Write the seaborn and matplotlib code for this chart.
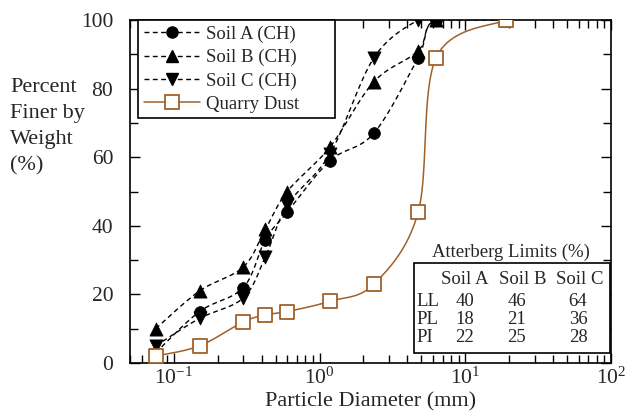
import numpy as np
import pandas as pd
import matplotlib
matplotlib.use("Agg")
import matplotlib.pyplot as plt
from matplotlib.lines import Line2D
from matplotlib.patches import Rectangle
from matplotlib.ticker import FixedLocator, LogLocator, NullFormatter, MultipleLocator
import seaborn as sns

# ---- data ----
sizes_mm = [0.075, 0.15, 0.3, 0.425, 0.6, 1.18, 2.36, 4.75, 6.3, 19.0]
soil_a = [3, 15, 22, 36, 44, 59, 67, 89, 100, 100]
soil_b = [10, 21, 28, 39, 50, 63, 82, 91, 100, 100]
soil_c = [5, 13, 19, 31, 46, 61, 89, 100, 100, 100]
quarry_dust = [2, 5, 12, 14, 15, 18, 23, 44, 89, 100]
series_names = ["Soil A (CH)", "Soil B (CH)", "Soil C (CH)", "Quarry Dust"]

atterberg_title = "Atterberg Limits (%)"
atterberg_cols = ["Soil A", "Soil B", "Soil C"]
atterberg_rows = ["LL", "PL", "PI"]
atterberg_ll = [40, 46, 64]
atterberg_pl = [18, 21, 36]
atterberg_pi = [22, 25, 28]

xtick_vals = [0.1, 1, 10, 100]
xtick_labels = ["$10^{-1}$", "$10^{0}$", "$10^{1}$", "$10^{2}$"]
ytick_vals = [0, 20, 40, 60, 80, 100]

# ---- style ----
sns.set_theme(style="ticks")
plt.rcParams["font.family"] = ["Liberation Serif", "DejaVu Serif"]
plt.rcParams["mathtext.fontset"] = "custom"
plt.rcParams["mathtext.rm"] = "Liberation Serif"
plt.rcParams["mathtext.it"] = "Liberation Serif:italic"
plt.rcParams["mathtext.bf"] = "Liberation Serif:bold"

FS_AX = 16
FS_TICK = 15.5
FS_LEG = 13.5
FS_TAB = 13.5
BROWN = "#a0602a"

fig = plt.figure(figsize=(6.3, 4.17), dpi=100)
ax = fig.add_axes([130 / 630, 1 - 363 / 417, 481 / 630, 343 / 417])
ax.set_xscale("log")
ax.set_xlim(0.05, 100)
ax.set_ylim(0, 100)


def smooth(xs, ys, n=40):
    # Bezier smoothing (Catmull-Rom style) in display-like coordinates
    u = np.log10(np.asarray(xs, float)) * 146.0
    v = np.asarray(ys, float) * 3.43
    P = np.column_stack([u, v])
    out = []
    m = len(P)
    for i in range(m - 1):
        p0 = P[i - 1] if i > 0 else P[i]
        p1 = P[i]
        p2 = P[i + 1]
        p3 = P[i + 2] if i + 2 < m else P[i + 1]
        c1 = p1 + (p2 - p0) / 6.0
        c2 = p2 - (p3 - p1) / 6.0
        t = np.linspace(0, 1, n)[:, None]
        seg = ((1 - t) ** 3) * p1 + 3 * ((1 - t) ** 2) * t * c1 + 3 * (1 - t) * t ** 2 * c2 + t ** 3 * p2
        out.append(seg if i == 0 else seg[1:])
    S = np.vstack(out)
    return 10 ** (S[:, 0] / 146.0), S[:, 1] / 3.43


DASH = (0, (3.5, 2.5))
soils = [(soil_a, "o", 8.5), (soil_b, "^", 9.5), (soil_c, "v", 9.5)]
for vals, mk, ms in soils:
    sx, sy = smooth(sizes_mm, vals)
    ax.plot(sx, sy, color="black", lw=1.0, ls=DASH, zorder=3)
    d = pd.DataFrame({"x": sizes_mm, "y": vals})
    sns.scatterplot(data=d, x="x", y="y", ax=ax, marker=mk, s=ms ** 2,
                    color="black", edgecolor="black", linewidth=0.5, zorder=4, legend=False)

qx, qy = smooth(sizes_mm, quarry_dust)
dq = pd.DataFrame({"x": qx, "y": qy})
sns.lineplot(data=dq, x="x", y="y", ax=ax, color=BROWN, lw=1.1, sort=False, zorder=3, legend=False)
dqp = pd.DataFrame({"x": sizes_mm, "y": quarry_dust})
sns.scatterplot(data=dqp, x="x", y="y", ax=ax, marker="s", s=10 ** 2, color="white",
                edgecolor=BROWN, linewidth=1.3, zorder=5, legend=False)

# axes styling
for sp in ax.spines.values():
    sp.set_visible(True)
    sp.set_color("black")
    sp.set_linewidth(1.2)
ax.xaxis.set_major_locator(FixedLocator(xtick_vals))
ax.set_xticklabels(xtick_labels, fontsize=FS_TICK)
ax.xaxis.set_minor_locator(LogLocator(base=10, subs=np.arange(2, 10)))
ax.xaxis.set_minor_formatter(NullFormatter())
ax.set_yticks(ytick_vals)
ax.set_yticklabels([str(v) for v in ytick_vals], fontsize=FS_TICK)
ax.yaxis.set_minor_locator(MultipleLocator(10))
ax.tick_params(which="both", direction="in", top=True, right=True, color="black", width=1.0)
ax.tick_params(which="major", length=7)
ax.tick_params(which="minor", length=6)
ax.tick_params(axis="x", which="major", pad=3)
ax.tick_params(axis="y", which="major", pad=12)
ax.set_xlabel("Particle Diameter (mm)", fontsize=FS_AX, labelpad=3)
ax.set_ylabel("")
fig.text(10 / 630, 1 - 127 / 417, "Percent\nFiner by\nWeight\n(%)", fontsize=FS_AX,
         ha="left", va="center", linespacing=1.5)

# legend
handles = [
    Line2D([], [], color="black", lw=1.0, ls=DASH, marker="o", markersize=8),
    Line2D([], [], color="black", lw=1.0, ls=DASH, marker="^", markersize=9),
    Line2D([], [], color="black", lw=1.0, ls=DASH, marker="v", markersize=9),
    Line2D([], [], color=BROWN, lw=1.1, marker="s", markersize=9.5, markerfacecolor="white",
           markeredgecolor=BROWN, markeredgewidth=1.3),
]
leg = ax.legend(handles, series_names, loc="upper left",
                bbox_to_anchor=(8 / 481, 0.0, (335 - 138) / 481, 1.0), mode="expand",
                fontsize=FS_LEG, frameon=True, fancybox=False, edgecolor="black",
                handlelength=3.0, handletextpad=0.3, borderpad=0.3, labelspacing=0.32,
                borderaxespad=0.0)
leg.get_frame().set_linewidth(1.2)
leg.get_frame().set_alpha(1)
leg.set_zorder(10)


def ax_xy(px, py):
    return (px - 130) / 481, (363 - py) / 343


# Atterberg table
tx, ty = ax_xy(511, 252)
ax.text(tx, ty, atterberg_title, transform=ax.transAxes, ha="center", va="center", fontsize=FS_TAB, zorder=11)
bx0, by0 = ax_xy(414, 353)
bx1, by1 = ax_xy(610, 263)
ax.add_patch(Rectangle((bx0, by0), bx1 - bx0, by1 - by0, transform=ax.transAxes,
                       facecolor="white", edgecolor="black", lw=1.2, zorder=10))
col_px = [465, 523, 580]
val_px = [465, 517, 578]
for name, cx in zip(atterberg_cols, col_px):
    x, y = ax_xy(cx, 280)
    ax.text(x, y, name, transform=ax.transAxes, ha="center", va="center", fontsize=FS_TAB, zorder=11)
for rname, rvals, ry in zip(atterberg_rows, [atterberg_ll, atterberg_pl, atterberg_pi], [301, 320, 338]):
    x, y = ax_xy(416, ry)
    ax.text(x, y, rname, transform=ax.transAxes, ha="left", va="center", fontsize=FS_TAB, zorder=11)
    for v, cx in zip(rvals, val_px):
        x, y = ax_xy(cx, ry)
        ax.text(x, y, str(v), transform=ax.transAxes, ha="center", va="center", fontsize=FS_TAB, zorder=11)

fig.savefig("out.png", dpi=100)
